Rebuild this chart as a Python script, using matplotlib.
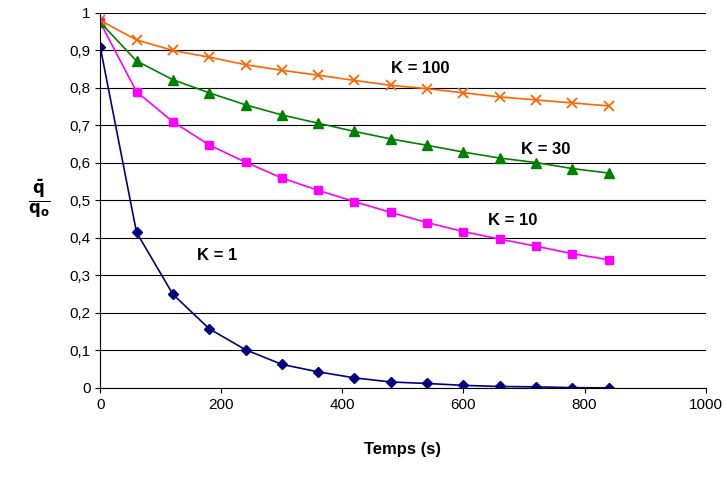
import matplotlib.pyplot as plt
from matplotlib.ticker import FuncFormatter

t = [0, 60, 120, 180, 240, 300, 360, 420, 480, 540, 600, 660, 720, 780, 840]
k1 = [0.91, 0.415, 0.25, 0.158, 0.102, 0.063, 0.043, 0.027, 0.016, 0.012, 0.007, 0.004, 0.003, 0.001, 0.0]
k10 = [0.975, 0.79, 0.71, 0.648, 0.602, 0.56, 0.527, 0.497, 0.468, 0.441, 0.417, 0.397, 0.378, 0.358, 0.342]
k30 = [0.975, 0.872, 0.822, 0.787, 0.755, 0.728, 0.706, 0.684, 0.664, 0.647, 0.629, 0.613, 0.601, 0.585, 0.573]
k100 = [0.98, 0.928, 0.9, 0.882, 0.862, 0.847, 0.834, 0.82, 0.807, 0.798, 0.787, 0.776, 0.768, 0.76, 0.752]

plt.rcParams['font.family'] = ['Liberation Sans', 'DejaVu Sans']
fig, ax = plt.subplots(figsize=(7.26, 4.79), dpi=100)
fig.subplots_adjust(left=0.138, right=0.972, top=0.973, bottom=0.19)

ax.plot(t, k1, color='#000080', marker='D', ms=5, lw=1.2)
ax.plot(t, k10, color='#ff00ff', marker='s', ms=6, lw=1.2)
ax.plot(t, k30, color='#008000', marker='^', ms=7, lw=1.2)
ax.plot(t, k100, color='#ff6600', marker='x', ms=7, mew=1.3, lw=1.2)

ax.set_xlim(0, 1000)
ax.set_ylim(0, 1)
ax.set_xticks(range(0, 1001, 200))
ax.set_yticks([i / 10 for i in range(11)])
ax.yaxis.set_major_formatter(FuncFormatter(lambda v, p: f"{v:.1f}".replace('.', ',').replace(',0', '') if v in (0, 1) else f"{v:.1f}".replace('.', ',')))
ax.grid(axis='y', color='black', lw=0.8)
ax.set_axisbelow(True)
for s in ('top', 'right'):
    ax.spines[s].set_visible(False)
ax.tick_params(labelsize=11)

ax.text(160, 0.34, 'K = 1', fontsize=12, fontweight='bold')
ax.text(640, 0.435, 'K = 10', fontsize=12, fontweight='bold')
ax.text(695, 0.625, 'K = 30', fontsize=12, fontweight='bold')
ax.text(480, 0.84, 'K = 100', fontsize=12, fontweight='bold')

ax.set_xlabel('Temps (s)', fontsize=12, fontweight='bold', labelpad=22)
ax.set_ylabel(r'$\frac{\mathbf{\bar{q}}}{\mathbf{q_o}}$', fontsize=17, rotation=0, labelpad=22, va='center')

fig.savefig('out.png')
